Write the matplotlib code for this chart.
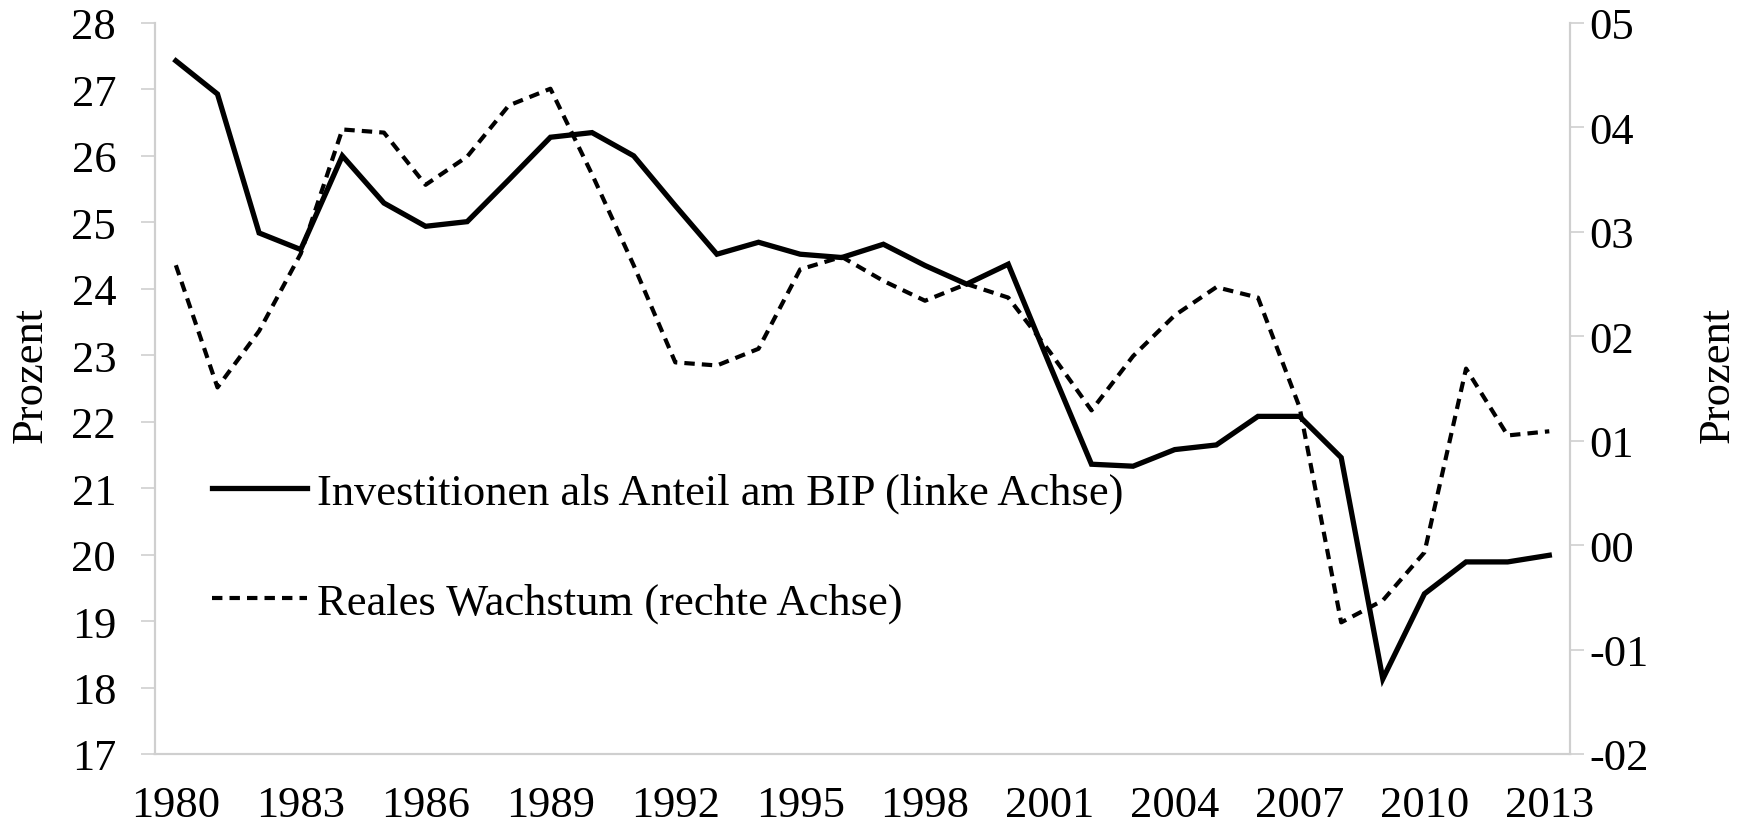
import matplotlib
matplotlib.use('Agg')
import matplotlib.pyplot as plt

plt.rcParams['font.family'] = ['Liberation Serif', 'DejaVu Serif']

years = list(range(1980, 2014))
invest = [27.43, 26.93, 24.84, 24.59, 26.00, 25.29, 24.94, 25.01, 25.64, 26.28,
          26.35, 26.00, 25.25, 24.52, 24.70, 24.52, 24.47, 24.67, 24.35, 24.07,
          24.37, 22.85, 21.36, 21.33, 21.58, 21.65, 22.08, 22.08, 21.46, 18.13,
          19.41, 19.89, 19.89, 19.99]
growth = [0.0268, 0.0151, 0.0205, 0.0279, 0.0398, 0.0395, 0.0345, 0.0372, 0.0421, 0.0437,
          0.0355, 0.0268, 0.0175, 0.0172, 0.0188, 0.0264, 0.0276, 0.0253, 0.0234, 0.0250,
          0.0237, 0.0185, 0.0129, 0.0181, 0.0220, 0.0247, 0.0237, 0.0132, -0.0074, -0.0053,
          -0.0007, 0.0169, 0.0105, 0.0109]
xticks = list(range(1980, 2014, 3))
left_ticks = list(range(17, 29))
right_ticks = [-0.02, -0.01, 0.0, 0.01, 0.02, 0.03, 0.04, 0.05]
right_labels = ['-02', '-01', '00', '01', '02', '03', '04', '05']
labels = ['Investitionen als Anteil am BIP (linke Achse)', 'Reales Wachstum (rechte Achse)']

fs = 32
grey = '#cfcfcf'

fig = plt.figure(figsize=(17.5, 8.37), dpi=100)
ax = fig.add_axes([0.0886, 0.098, 0.8086, 0.8734])
ax2 = ax.twinx()

l1, = ax.plot(years, invest, color='black', lw=3.8, solid_joinstyle='miter')
l2, = ax2.plot(years, growth, color='black', lw=3.0, linestyle=(0, (2.5, 1.7)))

ax.set_xlim(1979.5, 2013.5)
ax.set_ylim(17, 28)
ax2.set_ylim(-0.02, 0.05)

ax.set_xticks(xticks)
ax.set_xticklabels([str(y) for y in xticks], fontsize=fs)
ax.set_yticks(left_ticks)
ax.set_yticklabels([str(v) for v in left_ticks], fontsize=fs)
ax2.set_yticks(right_ticks)
ax2.set_yticklabels(right_labels, fontsize=fs)

ax.tick_params(axis='x', length=0, pad=22)
ax.tick_params(axis='y', length=10, width=1.2, color=grey, direction='out', pad=18)
ax2.tick_params(axis='y', length=10, width=1.2, color=grey, direction='out', pad=4)

for a in (ax, ax2):
    a.spines['top'].set_visible(False)
    for s in ('left', 'right', 'bottom'):
        a.spines[s].set_color(grey)
        a.spines[s].set_linewidth(1.5)

ax.set_ylabel('Prozent', fontsize=fs)
ax.yaxis.set_label_coords(-0.074, 0.52)
ax2.set_ylabel('Prozent', fontsize=fs, rotation=90)
ax2.yaxis.set_label_coords(1.09, 0.52)

ax.legend([l1, l2], labels, loc='upper left', bbox_to_anchor=(0.04, 0.385),
          frameon=False, fontsize=fs, handlelength=2.15, handletextpad=0.22,
          labelspacing=1.55, borderpad=0, borderaxespad=0)

fig.savefig('out.png', dpi=100)
